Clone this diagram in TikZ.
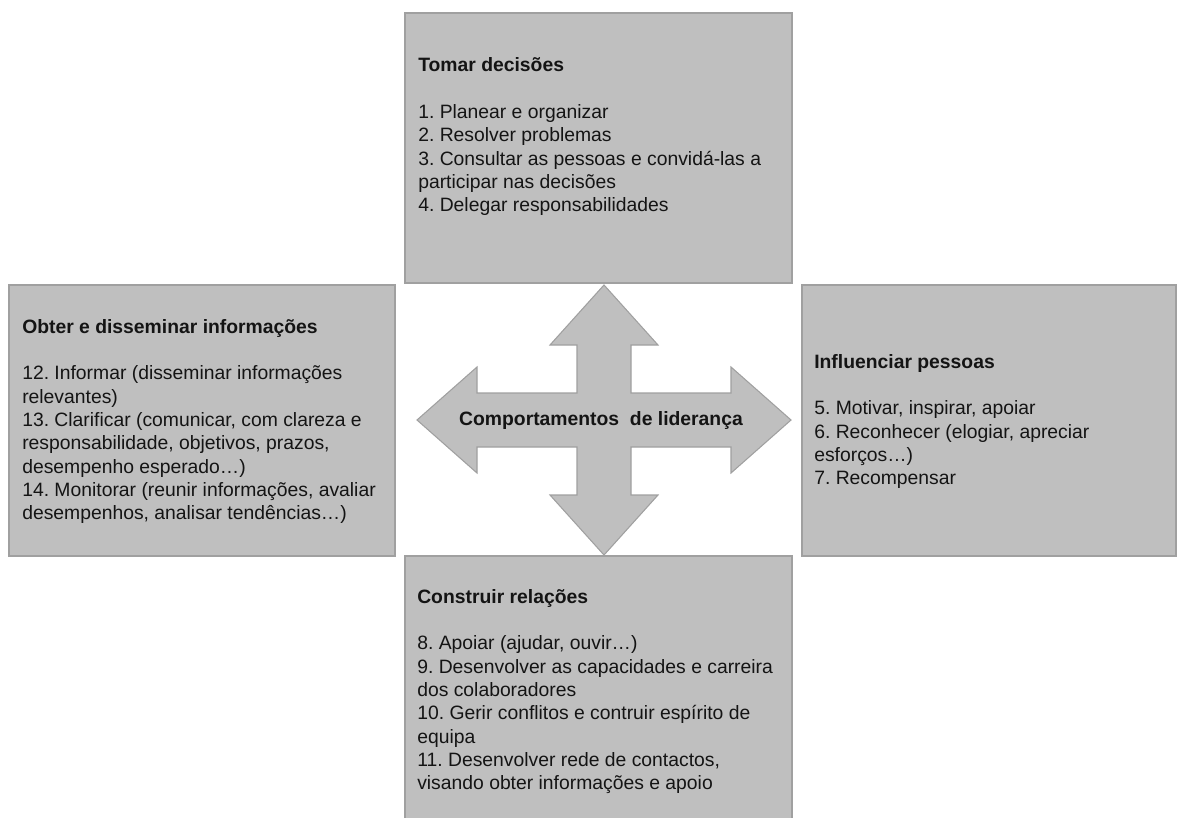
\documentclass[tikz,border=0pt]{standalone}
\usepackage{fontspec}
\setmainfont{Liberation Sans}
\frenchspacing
\definecolor{boxfill}{RGB}{191,191,191}
\definecolor{boxline}{RGB}{160,160,160}
\definecolor{ink}{RGB}{20,20,20}
\tikzset{
  box/.style={draw=boxline, fill=boxfill, line width=0.8pt, rectangle, inner sep=0pt},
  txt/.style={anchor=north west, inner sep=0pt, align=left, text=ink,
    font=\fontsize{14.5pt}{17.5pt}\selectfont\frenchspacing},
  cross/.style={draw=boxline, fill=boxfill, line width=0.8pt, line join=miter},
  label/.style={inner sep=0pt, text=ink, font=\fontsize{14.5pt}{17.5pt}\selectfont\bfseries}
}
\begin{document}
\begin{tikzpicture}[x=0.75pt, y=-0.75pt]
\useasboundingbox (0,0) rectangle (1177,817);
\clip (0,0) rectangle (1177,817);
% boxes
\node[box, minimum width=290.25pt, minimum height=202.5pt] (top) at (598.5,148) {};
\node[box, minimum width=289.5pt, minimum height=203.25pt] (left) at (202,420.5) {};
\node[box, minimum width=280.5pt, minimum height=203.25pt] (right) at (989,420.5) {};
\node[box, minimum width=290.25pt, minimum height=202.5pt] (bottom) at (598.5,691) {};
% central four-way arrow
\draw[cross] (604,285) -- (658,345) -- (631,345) -- (631,393) -- (731,393) -- (731,367)
  -- (791,420) -- (731,473) -- (731,447) -- (631,447) -- (631,495) -- (658,495)
  -- (604,555) -- (550,495) -- (577,495) -- (577,447) -- (477,447) -- (477,473)
  -- (417,420) -- (477,367) -- (477,393) -- (577,393) -- (577,345) -- (550,345) -- cycle;
\node[label] (centre) at (601,420) {Comportamentos\ \ de liderança};
% texts
\node[txt] (ttop) at (418,55.2) {\strut\textbf{Tomar decisões}\\[17.5pt]
1. Planear e organizar\\
2. Resolver problemas\\
3. Consultar as pessoas e convidá-las a\\
participar nas decisões\\
4. Delegar responsabilidades};
\node[txt] (tleft) at (22,316.7) {\strut\textbf{Obter e disseminar informações}\\[17.5pt]
12. Informar (disseminar informações\\
relevantes)\\
13. Clarificar (comunicar, com clareza e\\
responsabilidade, objetivos, prazos,\\
desempenho esperado…)\\
14. Monitorar (reunir informações, avaliar\\
desempenhos, analisar tendências…)};
\node[txt] (tright) at (814,351.7) {\strut\textbf{Influenciar pessoas}\\[17.5pt]
5. Motivar, inspirar, apoiar\\
6. Reconhecer (elogiar, apreciar\\
esforços…)\\
7. Recompensar};
\node[txt] (tbottom) at (417,586.7) {\strut\textbf{Construir relações}\\[17.5pt]
8. Apoiar (ajudar, ouvir…)\\
9. Desenvolver as capacidades e carreira\\
dos colaboradores\\
10. Gerir conflitos e contruir espírito de\\
equipa\\
11. Desenvolver rede de contactos,\\
visando obter informações e apoio};
\end{tikzpicture}
\end{document}
